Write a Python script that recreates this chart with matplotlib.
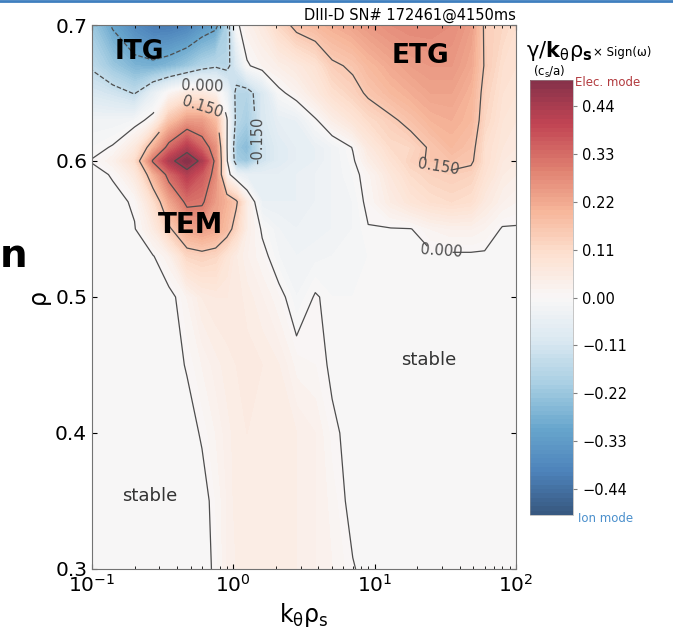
import numpy as np
import matplotlib
matplotlib.use('Agg')
import matplotlib.pyplot as plt
from matplotlib.colors import ListedColormap
from matplotlib.lines import Line2D
from matplotlib.ticker import FuncFormatter

plt.rcParams['mathtext.default'] = 'regular'

# k_theta rho_s grid (columns) and rho grid (rows)
ky = [0.1, 0.14, 0.2, 0.27, 0.35, 0.47, 0.6, 0.75, 0.9, 1.05, 1.25, 1.6, 2.1,
      2.8, 3.8, 5.0, 7.0, 9.0, 13, 18, 25, 35, 48, 60, 80, 100]
rho = [0.30, 0.35, 0.40, 0.45, 0.50, 0.53, 0.55, 0.57, 0.59, 0.60, 0.61,
       0.63, 0.65, 0.67, 0.70]

# gamma / (k_theta rho_s) x sign(omega) (rows = rho)
growth = [
    [-.01, -.01, -.01, -.01, -.01, -.01, -.01, .005, .03, .04, .05, .05, .05, .04, .03, .02, .002,
     -.01, -.01, -.01, -.01, -.01, -.01, -.01, -.01, -.01],
    [-.01, -.01, -.01, -.01, -.01, -.01, -.01, .01, .03, .045, .05, .05, .05, .04, .03, .015, -.01,
     -.01, -.01, -.01, -.01, -.01, -.01, -.01, -.01, -.01],
    [-.01, -.01, -.01, -.01, -.01, -.01, .003, .02, .035, .045, .05, .05, .05, .04, .03, .005,
     -.01, -.01, -.01, -.01, -.01, -.01, -.01, -.01, -.01, -.01],
    [-.01, -.01, -.01, -.01, -.01, .002, .02, .035, .045, .05, .055, .05, .04, .015, .01, -.005,
     -.01, -.01, -.01, -.01, -.01, -.01, -.01, -.01, -.01, -.01],
    [-.01, -.01, -.01, -.01, -.01, .02, .05, .06, .06, .055, .045, .03, .01, -.02, .003, -.01,
     -.01, -.01, -.01, -.01, -.01, -.01, -.01, -.01, -.01, -.01],
    [-.01, -.01, -.01, -.002, .03, .12, .13, .12, .08, .05, .03, .01, -.02, -.03, -.025, -.02,
     -.015, -.01, -.01, -.01, -.005, -.005, -.005, -.005, -.01, -.01],
    [-.01, -.01, -.002, .05, .14, .22, .24, .22, .18, .12, .04, -.005, -.03, -.04, -.035, -.03,
     -.02, -.002, -.002, -.001, .02, .03, .03, .02, -.003, -.003],
    [-.01, -.01, .005, .1, .22, .32, .31, .24, .2, .16, .045, -.05, -.05, -.05, -.04, -.03,
     -.02, .01, .05, .08, .1, .11, .1, .06, .03, .02],
    [-.01, .003, .06, .2, .33, .42, .36, .27, .02, -.04, -.06, -.06, -.06, -.05, -.04, -.03,
     -.01, .015, .07, .11, .13, .14, .13, .09, .05, .04],
    [.002, .03, .1, .31, .43, .5, .43, .28, .01, -.2, -.22, -.12, -.08, -.06, -.05, -.03,
     -.005, .04, .09, .13, .16, .17, .16, .1, .06, .05],
    [-.01, .003, .06, .2, .33, .42, .34, .26, .005, -.22, -.25, -.12, -.08, -.06, -.05, -.03,
     .002, .06, .11, .12, .16, .19, .17, .1, .07, .06],
    [-.03, -.03, -.02, .02, .16, .24, .24, .18, .005, -.17, -.2, -.1, -.06, -.05, -.005, .04,
     .08, .11, .14, .17, .2, .21, .19, .12, .08, .07],
    [-.1, -.12, -.155, -.06, .01, .06, .06, .03, -.05, -.17, -.18, -.1, -.01, .02, .06, .1,
     .13, .16, .19, .21, .23, .23, .2, .13, .09, .08],
    [-.16, -.22, -.27, -.28, -.26, -.22, -.18, -.16, -.17, -.1, -.005, .02, .04, .06, .09, .14,
     .16, .19, .22, .24, .25, .25, .22, .145, .1, .09],
    [-.22, -.31, -.38, -.42, -.42, -.4, -.35, -.32, -.2, -.01, .03, .06, .12, .17, .19, .21,
     .23, .25, .27, .28, .28, .27, .24, .14, .12, .1],
]

other_levels = [-0.45, -0.3, 0.3, 0.45]
cbar_ticks = [-0.44, -0.33, -0.22, -0.11, 0.0, 0.11, 0.22, 0.33, 0.44]
y_ticks = [0.3, 0.4, 0.5, 0.6, 0.7]

# labelled contour levels and where their labels sit (k, rho)
labelled = {
    0.0: [(0.72, 0.656), (29.4, 0.532)],
    0.15: [(0.75, 0.640), (28.5, 0.600)],
    -0.15: [(1.5, 0.615)],
}

W, H = 673, 630
fig = plt.figure(figsize=(W / 100, H / 100), dpi=100)
ax = fig.add_axes([92 / W, 1 - 569 / H, (516 - 92) / W, (569 - 25) / H])
cax = fig.add_axes([530 / W, 1 - 515 / H, 43 / W, 435 / H])

# washed-out RdBu_r like the slide
base = plt.get_cmap('RdBu_r')(np.linspace(0, 1, 256))
base[:, :3] = base[:, :3] * 0.8 + 0.2 * np.array([1.0, 0.965, 0.965])
cmap = ListedColormap(base)

K, R = np.meshgrid(ky, rho)
Z = np.array(growth)
cf = ax.contourf(K, R, Z, levels=np.linspace(-0.5, 0.5, 101), cmap=cmap,
                 vmin=-0.5, vmax=0.5)
cf.set_edgecolor('face')
cf.set_linewidth(0.3)
ax.contour(K, R, Z, levels=other_levels, colors='0.3', linewidths=0.9)
for lev, spots in labelled.items():
    cs = ax.contour(K, R, Z, levels=[lev], colors='0.3', linewidths=0.9)
    cs.clabel(fmt='%.3f', fontsize=10.5, inline=True, manual=spots)

ax.set_xscale('log')
ax.set_xlim(0.1, 100)
ax.set_ylim(0.3, 0.7)
ax.set_yticks(y_ticks)
ax.set_yticklabels([f'{v:.1f}' for v in y_ticks])
ax.tick_params(labelsize=14.5, direction='in', top=True, right=True)
ax.tick_params(which='minor', direction='in', top=True)
for s in ax.spines.values():
    s.set_color('0.45')
ax.set_xlabel(r'$k_{\theta}\rho_{s}$', fontsize=17, labelpad=4)
ax.set_title('DIII-D SN# 172461@4150ms', loc='right', fontsize=10.5, pad=4)

# region names
ax.text(0.217, 0.680, 'ITG', fontsize=19, fontweight='bold', ha='center', va='center')
ax.text(21.0, 0.677, 'ETG', fontsize=19, fontweight='bold', ha='center', va='center')
ax.text(0.50, 0.553, 'TEM', fontsize=20, fontweight='bold', ha='center', va='center')
ax.text(0.2545, 0.354, 'stable', fontsize=13, color='0.2', ha='center', va='center')
ax.text(24.2, 0.454, 'stable', fontsize=13, color='0.2', ha='center', va='center')

cb = fig.colorbar(cf, cax=cax, ticks=cbar_ticks)
cb.ax.yaxis.set_major_formatter(FuncFormatter(lambda v, p: f'{v:.2f}'.replace('-', '\u2212')))
cb.ax.tick_params(labelsize=10.5, length=3, color='0.5')
cb.outline.set_linewidth(0.4)
cb.outline.set_edgecolor('0.6')

fig.text(38 / W, 1 - 296 / H, 'ρ', fontsize=17, rotation=90, ha='center', va='center')
fig.text(526 / W, 1 - 57 / H, r'$\gamma/\mathbf{k}_{\theta}\rho_{\mathbf{s}}$', fontsize=15,
         va='baseline')
fig.text(593 / W, 1 - 56 / H, '× Sign(ω)', fontsize=8.5, va='baseline')
fig.text(533 / W, 1 - 72 / H, r'(c$_s$/a)', fontsize=8.5, va='center')
fig.text(575 / W, 1 - 83 / H, 'Elec. mode', fontsize=8.5, color='#b23a3e', va='center')
fig.text(578 / W, 1 - 518 / H, 'Ion mode', fontsize=8.5, color='#4a8fcc', va='center')
fig.text(0.0, 1 - 267 / H, 'n', fontsize=28, fontweight='bold', va='baseline')
fig.add_artist(Line2D([0, 1], [1 - 1 / H, 1 - 1 / H], color='#3f7fbf', lw=2,
                      transform=fig.transFigure))

fig.savefig('out.png', dpi=100)
